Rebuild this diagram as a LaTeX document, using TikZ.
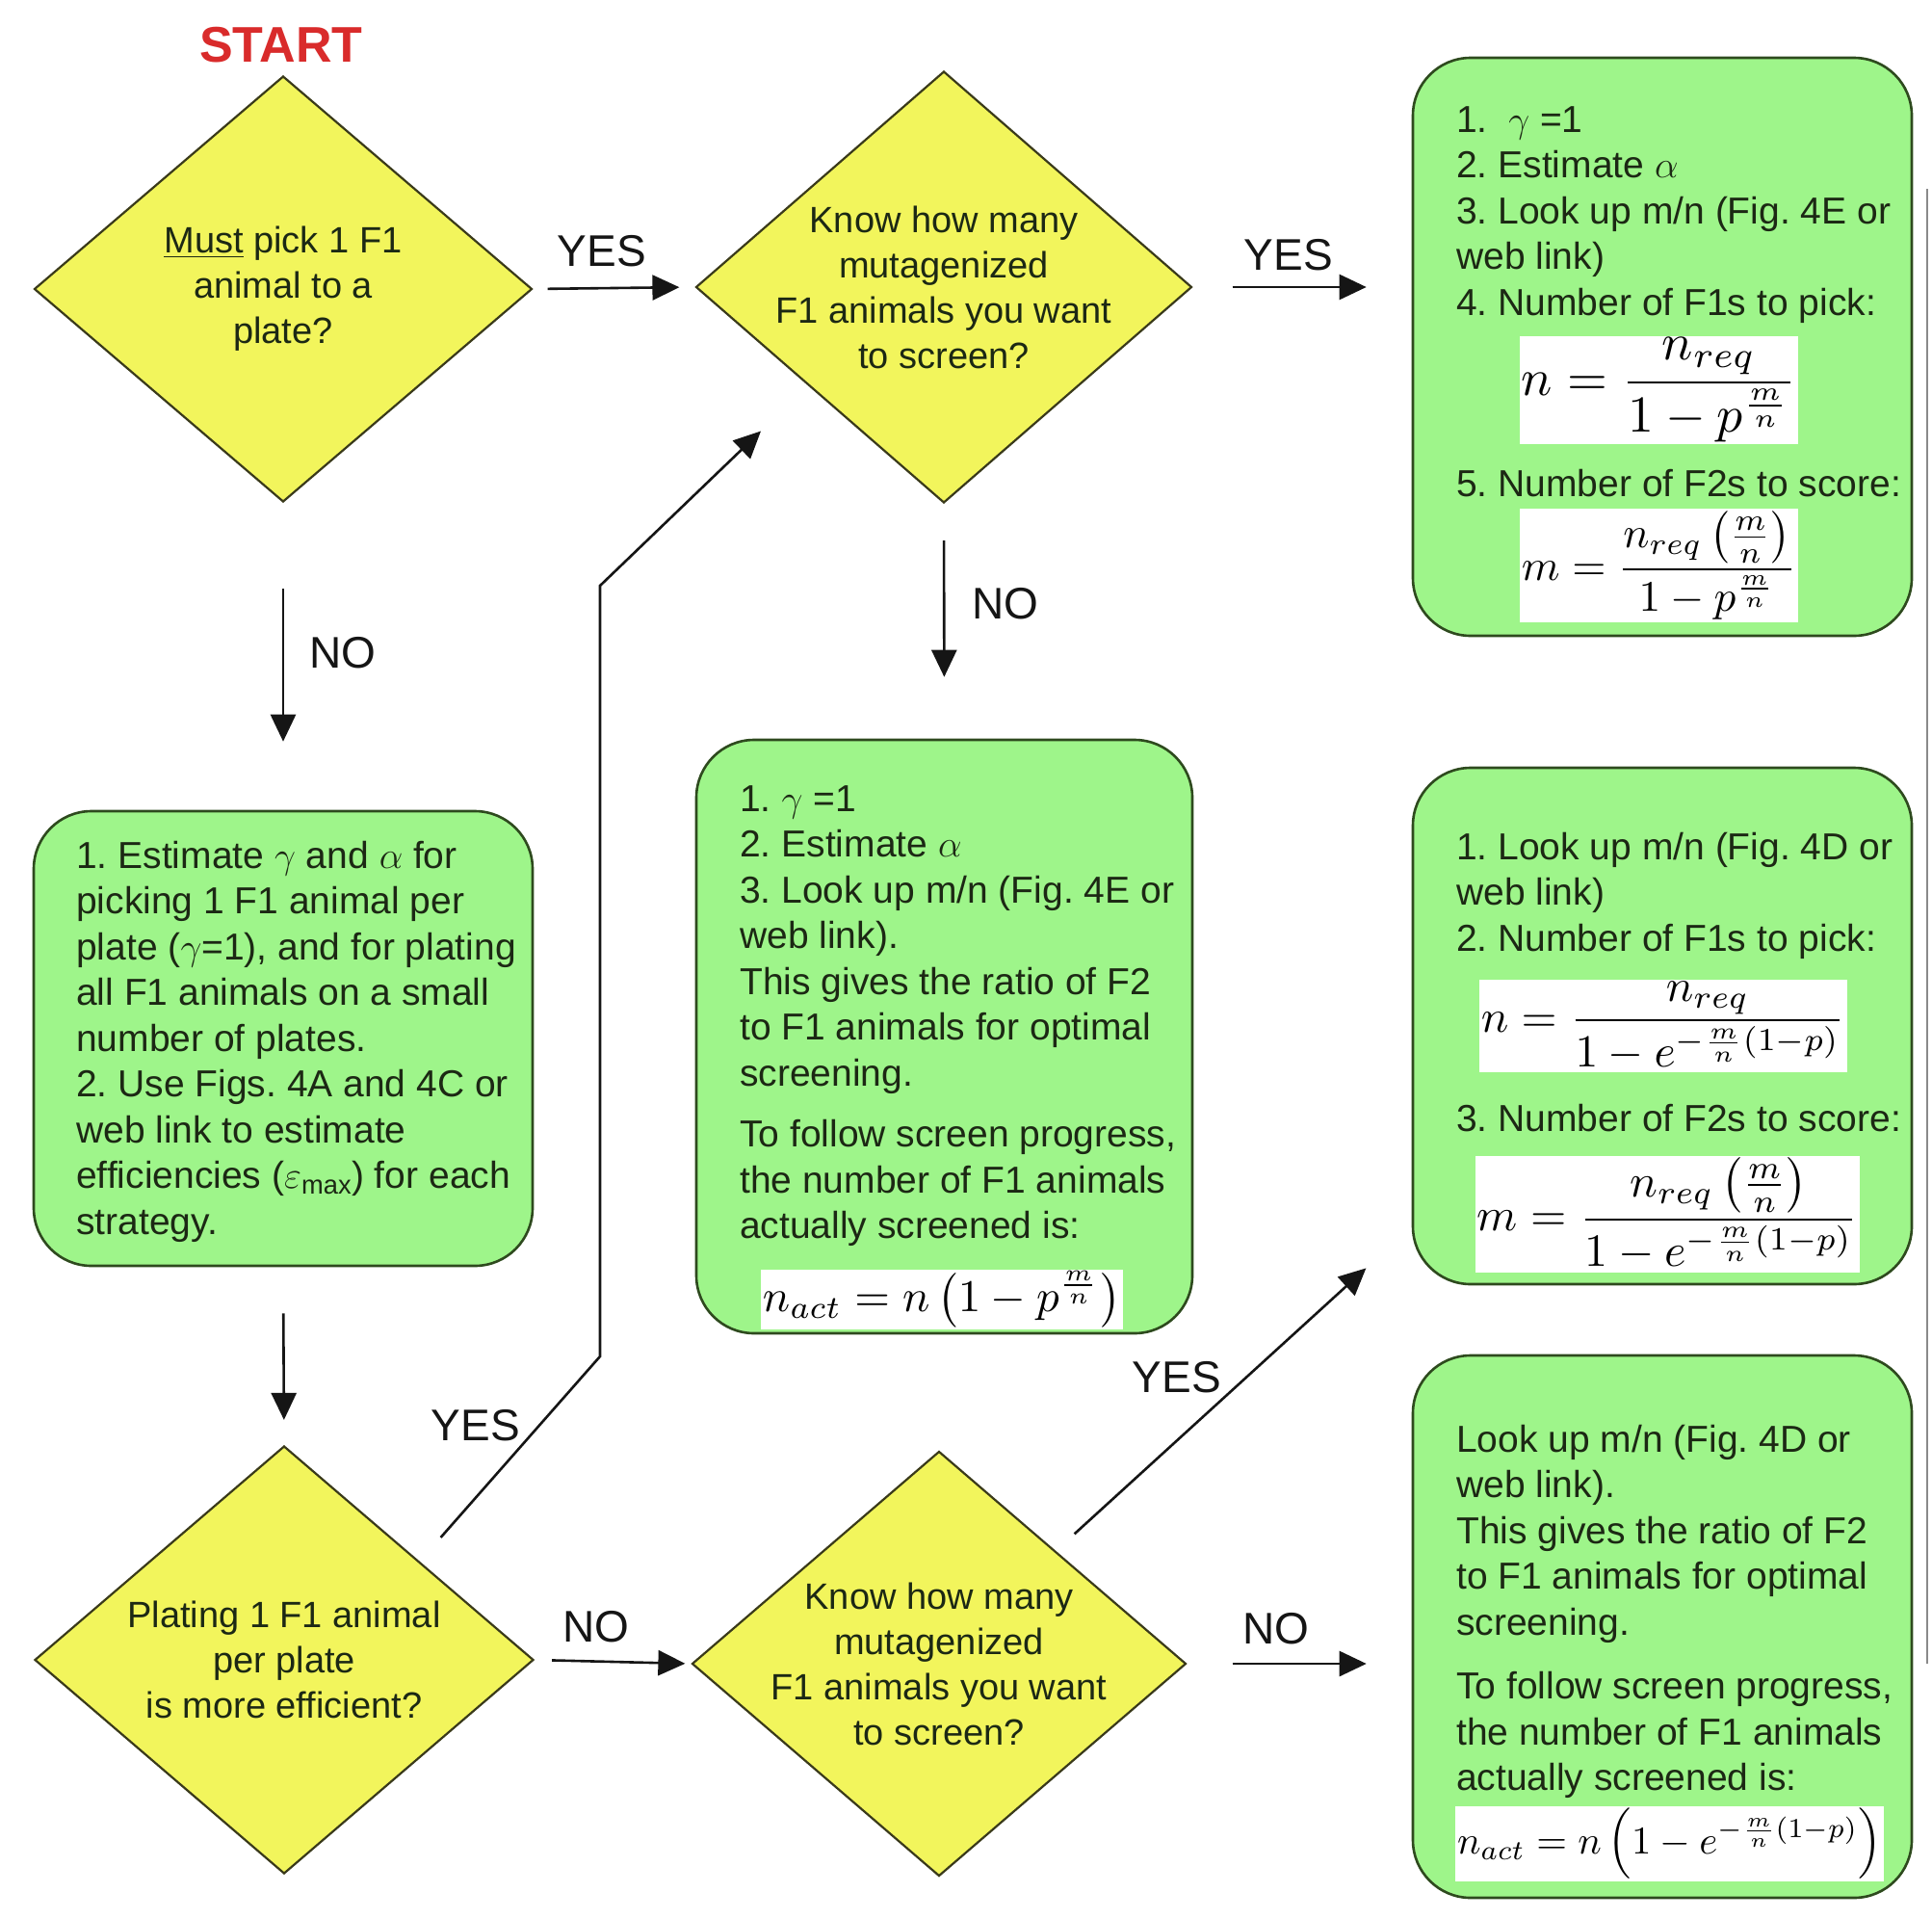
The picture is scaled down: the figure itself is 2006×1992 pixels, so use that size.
\RequirePackage{fix-cm}
\documentclass[tikz,border=0pt]{standalone}
\usepackage{amsmath}
\usepackage{graphicx}
\usepackage[no-math]{fontspec}
\setmainfont{Liberation Sans}
\usetikzlibrary{shapes.geometric,arrows.meta,calc}
\definecolor{boxgreen}{HTML}{9EF58A}
\definecolor{boxline}{HTML}{2E4A1E}
\definecolor{decyellow}{HTML}{F2F55C}
\definecolor{decline}{HTML}{3A3A1A}
\definecolor{txtcol}{HTML}{1C2814}
\definecolor{arrcol}{HTML}{151515}
\definecolor{startred}{HTML}{D92B2B}
\definecolor{edgegray}{HTML}{8A8A8A}
\newcommand{\firstln}{\rule{0pt}{33.25pt}}
\frenchspacing
\begin{document}
\begin{tikzpicture}[x=1pt,y=-1pt,
  box/.style={draw=boxline, line width=2.6pt, fill=boxgreen, rounded corners=60pt, inner sep=0pt},
  dec/.style={diamond, draw=decline, line width=2.2pt, fill=decyellow, inner sep=0pt},
  txt/.style={font=\fontsize{39}{47.5}\selectfont\frenchspacing, text=txtcol, align=left, inner sep=0pt, anchor=north west},
  dtxt/.style={font=\fontsize{38}{47}\selectfont\frenchspacing, text=txtcol, align=center, inner sep=0pt},
  lbl/.style={font=\fontsize{46}{50}\selectfont, text=arrcol, inner sep=0pt},
  arr/.style={-{Triangle[length=28pt,width=26pt]}, line width=2.6pt, draw=arrcol},
  fbox/.style={fill=white, inner sep=2pt}
]
\fill[white] (0,0) rectangle (2006,1992);
\useasboundingbox (0,0) rectangle (2006,1992);

% thin edge line at the right
\draw[edgegray, line width=2pt] (2001,196) -- (2001,1727);

% START
\node[font=\bfseries\fontsize{52}{60}\selectfont, text=startred, inner sep=0pt] (start) at (292,47) {START};

% decisions
\node[dec, minimum width=517pt, minimum height=442pt] (d1) at (294,300) {};
\node[dtxt] (d1t) at (d1.center) {\underline{Must} pick 1 F1\\animal to a\\plate?};

\node[dec, minimum width=515pt, minimum height=448pt] (d2) at (980,298) {};
\node[dtxt] (d2t) at (d2.center) {Know how many\\mutagenized\\F1 animals you want\\to screen?};

\node[dec, minimum width=518pt, minimum height=444pt] (d3) at (295,1723) {};
\node[dtxt] (d3t) at (d3.center) {Plating 1 F1 animal\\per plate\\is more efficient?};

\node[dec, minimum width=513pt, minimum height=441pt] (d4) at (975,1727) {};
\node[dtxt] (d4t) at (d4.center) {Know how many\\mutagenized\\F1 animals you want\\to screen?};

% boxes
\node[box, minimum width=518pt, minimum height=600pt] (tr) at (1726,360) {};
\node[box, minimum width=515pt, minimum height=616pt] (m) at (980.5,1076) {};
\node[box, minimum width=518pt, minimum height=536pt] (mr) at (1726,1065) {};
\node[box, minimum width=518pt, minimum height=563pt] (br) at (1726,1688.5) {};
\node[box, minimum width=518pt, minimum height=472pt] (l) at (294,1078) {};

% top-right box text
\node[txt] (tra) at (1512,104) {\firstln 1.\ \ $\gamma$ =1\\2. Estimate $\alpha$\\3. Look up m/n (Fig. 4E or\\web link)\\4. Number of F1s to pick:};
\node[fbox] (f1) at (1722.5,405) {\resizebox{285pt}{!}{$\displaystyle n = \frac{n_{req}}{1-p^{\frac{m}{n}}}$}};
\node[txt] (trb) at (1512,482) {\firstln 5. Number of F2s to score:};
\node[fbox] (f2) at (1722.5,587) {\resizebox{285pt}{!}{$\displaystyle m = \frac{n_{req}\left(\frac{m}{n}\right)}{1-p^{\frac{m}{n}}}$}};

% middle box text
\node[txt] (mt) at (768,809) {\firstln 1. $\gamma$ =1\\2. Estimate $\alpha$\\3. Look up m/n (Fig. 4E or\\web link).\\This gives the ratio of F2\\to F1 animals for optimal\\screening.\\[16pt]To follow screen progress,\\the number of F1 animals\\actually screened is:};
\node[fbox] (f3) at (978,1349) {\resizebox{372pt}{!}{$\displaystyle n_{act} = n\left(1-p^{\frac{m}{n}}\right)$}};

% middle-right box text
\node[txt] (mra) at (1512,859) {\firstln 1. Look up m/n (Fig. 4D or\\web link)\\2. Number of F1s to pick:};
\node[fbox] (f4) at (1727,1065) {\resizebox{378pt}{!}{$\displaystyle n = \frac{n_{req}}{1-e^{-\frac{m}{n}(1-p)}}$}};
\node[txt] (mrb) at (1512,1141) {\firstln 3. Number of F2s to score:};
\node[fbox] (f5) at (1731.5,1260) {\resizebox{395pt}{!}{$\displaystyle m = \frac{n_{req}\left(\frac{m}{n}\right)}{1-e^{-\frac{m}{n}(1-p)}}$}};

% bottom-right box text
\node[txt] (brt) at (1512,1474) {\firstln Look up m/n (Fig. 4D or\\web link).\\This gives the ratio of F2\\to F1 animals for optimal\\screening.\\[19pt]To follow screen progress,\\the number of F1 animals\\actually screened is:};
\node[fbox] (f6) at (1733.5,1914) {\resizebox{441pt}{!}{$\displaystyle n_{act} = n\left(1-e^{-\frac{m}{n}(1-p)}\right)$}};

% left box text
\node[txt] (lt) at (79,868) {\firstln 1. Estimate $\gamma$ and $\alpha$ for\\picking 1 F1 animal per\\plate ($\gamma$=1), and for plating\\all F1 animals on a small\\number of plates.\\2. Use Figs. 4A and 4C or\\web link to estimate\\efficiencies ($\varepsilon_{\text{max}}$) for each\\strategy.};

% connectors
\draw[arr, shorten <=15pt, shorten >=16pt] (d1.east) -- (d2.west);
\draw[arr, shorten <=41pt, shorten >=47pt] (d2.east) -- (d2.east -| tr.west);
\draw[arr, shorten <=89pt, shorten >=71pt] (d1.south) -- (l.north);
\draw[arr, shorten <=38pt, shorten >=64pt] (d2.south) -- (m.north);
\draw[arr, shorten <=48pt, shorten >=26pt] (l.south) -- (d3.north);
\coordinate (b1) at (623,1408);
\coordinate (b2) at (623,608);
\draw[arr, shorten <=33pt, shorten >=68pt] (d3.36) -- (b1) -- (b2) -- (d2.216);
\draw[arr, shorten <=18pt, shorten >=6pt] (d3.east) -- (d4.west);
\coordinate (mrin) at ($(mr.south west)+(0,-61)$);
\draw[arr, shorten <=26pt, shorten >=64pt] (d4.44) -- (mrin);
\draw[arr, shorten <=47pt, shorten >=47pt] (d4.east) -- (d4.east -| br.west);

% labels
\node[lbl] (y1) at (625,261) {YES};
\node[lbl] (y2) at (1338,265) {YES};
\node[lbl] (n1) at (356,678) {NO};
\node[lbl] (n2) at (1044,627) {NO};
\node[lbl] (y3) at (494,1480) {YES};
\node[lbl] (n3) at (619,1689) {NO};
\node[lbl] (y4) at (1222,1430) {YES};
\node[lbl] (n4) at (1325,1691) {NO};
\end{tikzpicture}
\end{document}
